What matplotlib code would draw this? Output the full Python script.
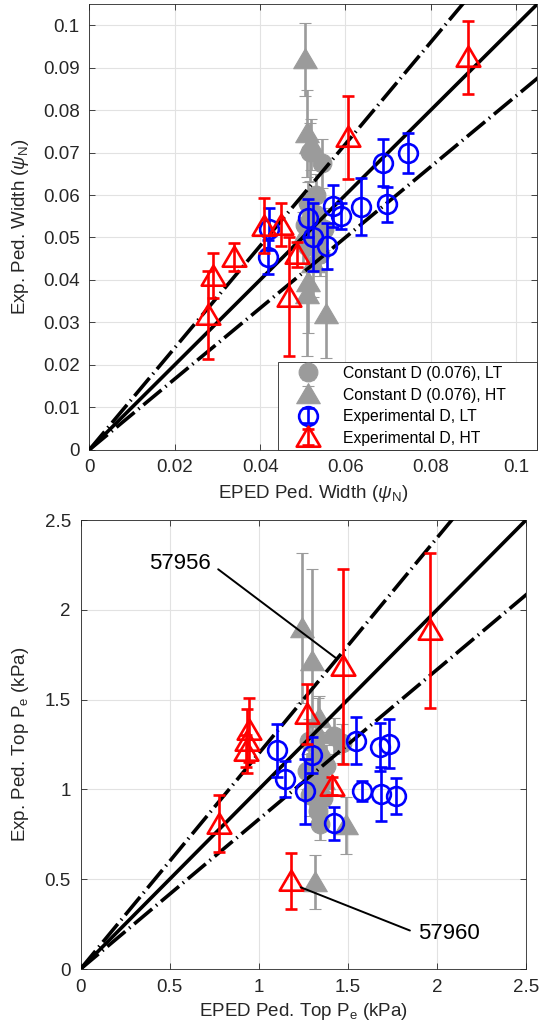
import numpy as np
import matplotlib
matplotlib.use("Agg")
import matplotlib.pyplot as plt
from matplotlib.path import Path

plt.rcParams['font.family'] = ['Liberation Sans', 'DejaVu Sans']
plt.rcParams['mathtext.fontset'] = 'custom'
plt.rcParams['mathtext.rm'] = 'Liberation Sans'
plt.rcParams['mathtext.it'] = 'Liberation Sans:italic'
plt.rcParams['mathtext.bf'] = 'Liberation Sans:bold'

# ---------------- top panel: pedestal width ----------------
w_const_lt_x = [0.0517, 0.0545, 0.0512, 0.0520, 0.0528, 0.0535, 0.0505, 0.0540, 0.0510, 0.0530, 0.0550]
w_const_lt_y = [0.0702, 0.0675, 0.0580, 0.0510, 0.0555, 0.0490, 0.0530, 0.0460, 0.0480, 0.0600, 0.0520]
w_const_lt_e = [0.0068, 0.0058, 0.0050, 0.0050, 0.0050, 0.0050, 0.0050, 0.0050, 0.0050, 0.0050, 0.0050]

w_const_ht_x = [0.0506, 0.0511, 0.0520, 0.0554, 0.0509, 0.0512, 0.0525, 0.0500, 0.0530]
w_const_ht_y = [0.0920, 0.0745, 0.0720, 0.0320, 0.0367, 0.0395, 0.0440, 0.0500, 0.0540]
w_const_ht_e = [0.0086, 0.0103, 0.0060, 0.0104, 0.0147, 0.0120, 0.0080, 0.0060, 0.0060]

w_exp_lt_x = [0.0747, 0.0688, 0.0698, 0.0636, 0.0571, 0.0589, 0.0512, 0.0524, 0.0556, 0.0418, 0.0420]
w_exp_lt_y = [0.0699, 0.0676, 0.0578, 0.0572, 0.0574, 0.0550, 0.0546, 0.0500, 0.0480, 0.0455, 0.0520]
w_exp_lt_e = [0.0047, 0.0055, 0.0041, 0.0067, 0.0050, 0.0030, 0.0045, 0.0080, 0.0055, 0.0040, 0.0050]

w_exp_ht_x = [0.0887, 0.0605, 0.0408, 0.0448, 0.0338, 0.0290, 0.0279, 0.0467, 0.0486]
w_exp_ht_y = [0.0925, 0.0736, 0.0528, 0.0530, 0.0454, 0.0410, 0.0318, 0.0360, 0.0460]
w_exp_ht_e = [0.0086, 0.0098, 0.0065, 0.0050, 0.0033, 0.0053, 0.0104, 0.0140, 0.0030]

w_ticks_x = [0, 0.02, 0.04, 0.06, 0.08, 0.1]
w_ticks_y = [0, 0.01, 0.02, 0.03, 0.04, 0.05, 0.06, 0.07, 0.08, 0.09, 0.1]
w_lim = 0.105

# ---------------- bottom panel: pedestal top pressure ----------------
p_const_lt_x = [1.28, 1.466, 1.29, 1.344, 1.31, 1.38, 1.33, 1.36, 1.32, 1.42, 1.27]
p_const_lt_y = [1.27, 1.256, 0.97, 0.81, 1.06, 1.13, 0.88, 0.95, 1.16, 1.30, 1.10]
p_const_lt_e = [0.12, 0.11, 0.12, 0.09, 0.10, 0.12, 0.09, 0.10, 0.10, 0.10, 0.10]

p_const_ht_x = [1.243, 1.299, 1.34, 1.33, 1.315, 1.49, 1.36, 1.30, 1.35]
p_const_ht_y = [1.90, 1.715, 1.40, 1.31, 0.485, 0.80, 1.05, 1.12, 1.22]
p_const_ht_e = [0.416, 0.513, 0.12, 0.20, 0.15, 0.16, 0.12, 0.10, 0.10]

p_exp_lt_x = [1.545, 1.679, 1.729, 1.578, 1.684, 1.768, 1.103, 1.148, 1.299, 1.260, 1.422]
p_exp_lt_y = [1.272, 1.237, 1.255, 0.990, 0.975, 0.965, 1.217, 1.060, 1.190, 0.990, 0.811]
p_exp_lt_e = [0.130, 0.135, 0.135, 0.055, 0.150, 0.100, 0.150, 0.100, 0.100, 0.180, 0.090]

p_exp_ht_x = [1.964, 1.472, 1.411, 1.271, 0.945, 0.937, 0.930, 0.779, 1.183]
p_exp_ht_y = [1.887, 1.687, 1.020, 1.422, 1.330, 1.270, 1.215, 0.810, 0.489]
p_exp_ht_e = [0.431, 0.543, 0.050, 0.167, 0.180, 0.180, 0.090, 0.158, 0.155]

p_ticks = [0, 0.5, 1, 1.5, 2, 2.5]
p_lim = 2.5

# annotations: label, text anchor, point the line goes to
ann_labels = ['57956', '57960']
ann_text = [(0.732, 2.256), (1.893, 0.197)]
ann_point = [(1.438, 1.728), (1.236, 0.455)]
ann_ha = ['right', 'left']

ref_factors = [1.0, 1.2, 1 / 1.2]
labels = ['Constant D (0.076), LT', 'Constant D (0.076), HT',
          'Experimental D, LT', 'Experimental D, HT']

GRAY = '#9b9b9b'
AX_COL = '#262626'

# MATLAB-like triangle (a bit wider than tall)
TRI = Path([(-1, -0.78), (1, -0.78), (0, 0.92), (0, 0)],
           [Path.MOVETO, Path.LINETO, Path.LINETO, Path.CLOSEPOLY])


def fmt(v):
    return '%g' % v


def style(ax, lim, xt, yt):
    ax.set_xlim(0, lim)
    ax.set_ylim(0, lim)
    ax.set_xticks(xt)
    ax.set_xticklabels([fmt(v) for v in xt])
    ax.set_yticks(yt)
    ax.set_yticklabels([fmt(v) for v in yt])
    ax.grid(True, color='#e2e2e2', lw=0.8)
    ax.set_axisbelow(True)
    ax.tick_params(direction='in', top=True, right=True, length=4.5, width=0.6,
                   colors=AX_COL, labelsize=13.5, pad=7)
    for s in ax.spines.values():
        s.set_color(AX_COL)
        s.set_linewidth(0.6)


def ref_lines(ax, lim):
    xs = np.array([0, lim * 1.2])
    for f in ref_factors:
        if f == 1.0:
            ax.plot(xs, xs * f, color='k', lw=2.6, zorder=3)
        else:
            ax.plot(xs, xs * f, color='k', lw=2.6, zorder=3,
                    ls=(0, (6.5, 1.4, 0.4, 1.4)))


def series(ax, x, y, e, color, marker, ms, filled, label, z):
    ax.errorbar(x, y, yerr=e, ls='none', marker=marker, ms=ms,
                mfc=color if filled else 'none', mec=color,
                mew=0.8 if filled else 1.9, ecolor=color, elinewidth=1.9,
                capsize=4.3, capthick=1.9, label=label, zorder=z)


fig = plt.figure(figsize=(5.39, 10.32), dpi=100)
ax1 = fig.add_axes([0.166, 0.5643, 0.831, 0.4318])
ax2 = fig.add_axes([0.1494, 0.0610, 0.8265, 0.4351])

CIRC_MS = 13.5
TRI_MS = 17

# top
style(ax1, w_lim, w_ticks_x, w_ticks_y)
series(ax1, w_const_lt_x, w_const_lt_y, w_const_lt_e, GRAY, 'o', CIRC_MS, True, labels[0], 2)
series(ax1, w_const_ht_x, w_const_ht_y, w_const_ht_e, GRAY, TRI, TRI_MS, True, labels[1], 2)
ref_lines(ax1, w_lim)
series(ax1, w_exp_lt_x, w_exp_lt_y, w_exp_lt_e, 'blue', 'o', CIRC_MS, False, labels[2], 4)
series(ax1, w_exp_ht_x, w_exp_ht_y, w_exp_ht_e, 'red', TRI, TRI_MS, False, labels[3], 5)
ax1.set_xlabel(r'EPED Ped. Width ($\psi_\mathrm{N}$)', fontsize=13.5, color=AX_COL, labelpad=5)
ax1.set_ylabel(r'Exp. Ped. Width ($\psi_\mathrm{N}$)', fontsize=13.5, color=AX_COL, labelpad=9)
leg = ax1.legend(loc='lower left', bbox_to_anchor=(0.421, 0.0, 0.579, 0.196),
                 mode='expand', borderaxespad=0, fontsize=11.3, fancybox=False,
                 edgecolor=AX_COL, framealpha=1, borderpad=0.25, labelspacing=0.42,
                 handlelength=3.3, handletextpad=0.6)
leg.get_frame().set_linewidth(0.6)
leg.set_zorder(10)

# bottom
style(ax2, p_lim, p_ticks, p_ticks)
series(ax2, p_const_lt_x, p_const_lt_y, p_const_lt_e, GRAY, 'o', CIRC_MS, True, labels[0], 2)
series(ax2, p_const_ht_x, p_const_ht_y, p_const_ht_e, GRAY, TRI, TRI_MS, True, labels[1], 2)
ref_lines(ax2, p_lim)
series(ax2, p_exp_lt_x, p_exp_lt_y, p_exp_lt_e, 'blue', 'o', CIRC_MS, False, labels[2], 4)
series(ax2, p_exp_ht_x, p_exp_ht_y, p_exp_ht_e, 'red', TRI, TRI_MS, False, labels[3], 5)
for lab, txy, pxy, ha in zip(ann_labels, ann_text, ann_point, ann_ha):
    ax2.annotate(lab, xy=pxy, xytext=txy, ha=ha, va='center', fontsize=16,
                 color='k', zorder=6,
                 arrowprops=dict(arrowstyle='-', color='k', lw=1.4,
                                 shrinkA=4, shrinkB=0,
                                 relpos=(1, 0.5) if ha == 'right' else (0, 0.5)))
ax2.set_xlabel(r'EPED Ped. Top P$_\mathrm{e}$ (kPa)', fontsize=13.5, color=AX_COL, labelpad=4)
ax2.set_ylabel(r'Exp. Ped. Top P$_\mathrm{e}$ (kPa)', fontsize=13.5, color=AX_COL, labelpad=10)

fig.savefig('out.png', dpi=100)
